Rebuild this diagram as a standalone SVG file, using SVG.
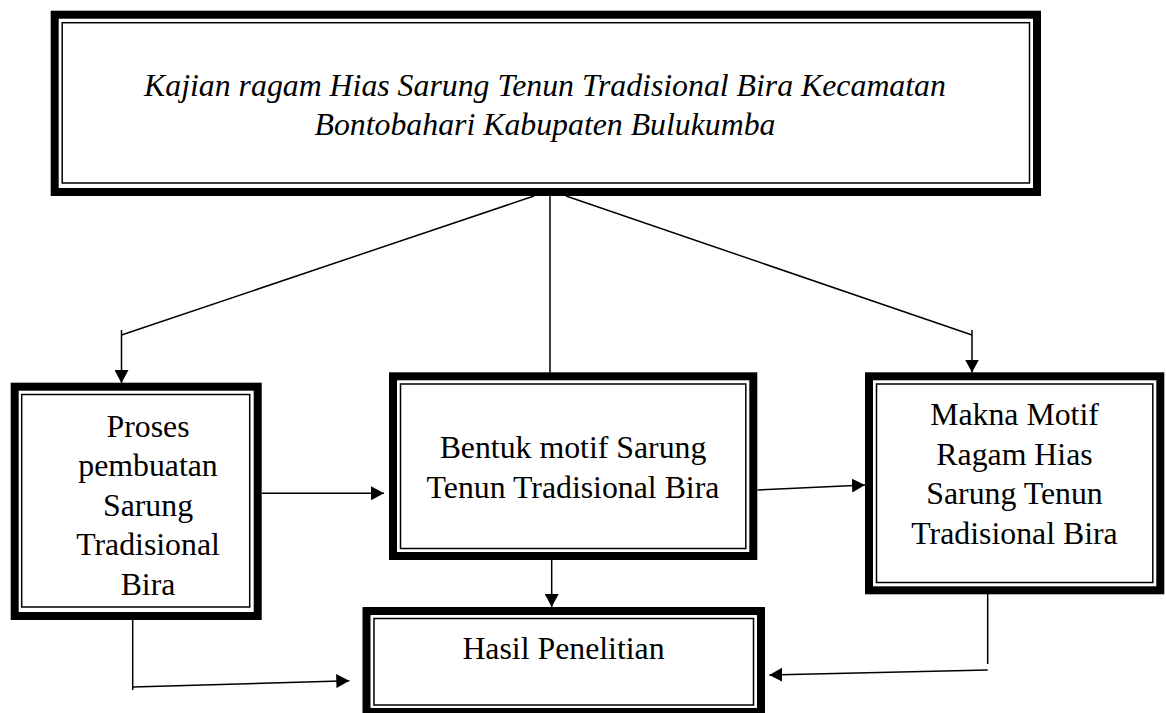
<svg xmlns="http://www.w3.org/2000/svg" width="1166" height="713" viewBox="0 0 1166 713">
<style>
.thick{fill:none;stroke:#000;stroke-width:8}
.thin{fill:none;stroke:#000;stroke-width:1.5}
.t{font-family:"Liberation Serif","Times New Roman",serif;font-size:31.8px;fill:#000;text-anchor:middle}
.it{font-style:italic}
.c{fill:none;stroke:#000;stroke-width:1.5}
</style>
<defs>
<marker id="ah" markerUnits="userSpaceOnUse" markerWidth="14" markerHeight="14" refX="13" refY="7" orient="auto">
<path d="M0,0 L13,7 L0,14 z" fill="#000"/>
</marker>
</defs>
<rect width="1166" height="713" fill="#fff"/>
<g id="connectors">
<path class="c" d="M534,196 L121.5,335"/>
<path class="c" d="M121.5,330 L121.5,383" marker-end="url(#ah)"/>
<path class="c" d="M566,196 L972,335"/>
<path class="c" d="M972,330 L972,372.5" marker-end="url(#ah)"/>
<path class="c" d="M550,196 L550,372.5"/>
<path class="c" d="M262,493.3 L384,493.3" marker-end="url(#ah)"/>
<path class="c" d="M757.5,490 L865,485" marker-end="url(#ah)"/>
<path class="c" d="M551.7,560 L551.7,607" marker-end="url(#ah)"/>
<path class="c" d="M132.7,620 L132.7,690"/>
<path class="c" d="M132.7,687 L349.3,680.7" marker-end="url(#ah)"/>
<path class="c" d="M987.7,594 L987.7,664"/>
<path class="c" d="M987.7,670 L769.3,675" marker-end="url(#ah)"/>
</g>
<g id="node-kajian">
<rect class="thick" x="54.7" y="14.7" width="982.3" height="177.3"/>
<rect class="thin" x="62.2" y="22.7" width="967.3" height="160.3"/>
<text class="t it" x="545" y="96">Kajian ragam Hias Sarung Tenun Tradisional Bira Kecamatan</text>
<text class="t it" x="545" y="135">Bontobahari Kabupaten Bulukumba</text>
</g>
<g id="node-proses">
<rect class="thick" x="14.7" y="386.7" width="243" height="229.3"/>
<rect class="thin" x="21.7" y="394.5" width="228" height="212.5"/>
<text class="t" x="148" y="436.5">Proses</text>
<text class="t" x="148" y="476">pembuatan</text>
<text class="t" x="148" y="515.6">Sarung</text>
<text class="t" x="148" y="555.2">Tradisional</text>
<text class="t" x="148" y="594.8">Bira</text>
</g>
<g id="node-bentuk">
<rect class="thick" x="393" y="376.3" width="360.3" height="179.7"/>
<rect class="thin" x="400.5" y="384" width="345.3" height="164.5"/>
<text class="t" x="573" y="457.5">Bentuk motif Sarung</text>
<text class="t" x="573" y="498">Tenun Tradisional Bira</text>
</g>
<g id="node-makna">
<rect class="thick" x="869" y="376.3" width="291.3" height="214"/>
<rect class="thin" x="876.5" y="384" width="276.3" height="198.5"/>
<text class="t" x="1014.5" y="425">Makna Motif</text>
<text class="t" x="1014.5" y="464.6">Ragam Hias</text>
<text class="t" x="1014.5" y="504.2">Sarung Tenun</text>
<text class="t" x="1014.5" y="543.8">Tradisional Bira</text>
</g>
<g id="node-hasil">
<rect class="thick" x="366.5" y="611" width="394.5" height="101"/>
<rect class="thin" x="374" y="618.5" width="379.5" height="86.5"/>
<text class="t" x="563.5" y="659">Hasil Penelitian</text>
</g>
</svg>
